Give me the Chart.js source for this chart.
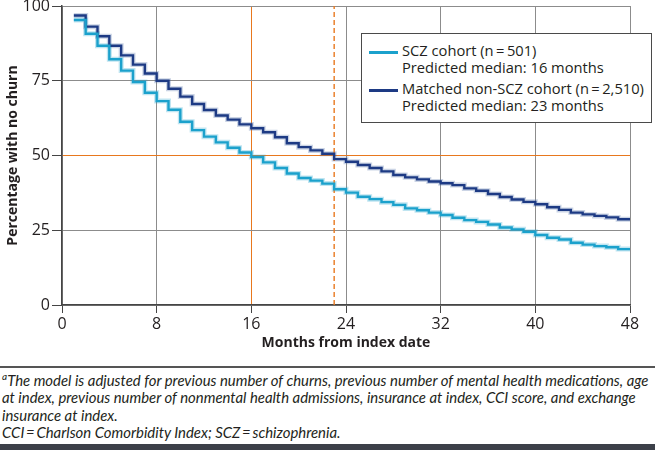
<!DOCTYPE html>
<html>
<head>
<meta charset="utf-8">
<script src="https://cdn.jsdelivr.net/npm/chart.js@4.4.1/dist/chart.umd.min.js"></script>
<style>
  html, body { margin: 0; padding: 0; background: #fff; }
  #wrap { position: relative; width: 655px; height: 450px; overflow: hidden; font-family: "Open Sans", sans-serif; color: #231f20; }
  #chartBox { position: absolute; left: 0; top: 0; width: 655px; height: 358px; }
  #legend { position: absolute; left: 361px; top: 33px; width: 291px; height: 90px; border: 1.5px solid #4a4a4a; background: #fff; box-sizing: border-box; }
  .entry { position: absolute; left: 0; }
  .swatch { position: absolute; left: 7px; width: 29px; height: 2.5px; }
  .lbl { position: absolute; left: 40px; white-space: nowrap; font-size: 14.7px; line-height: 17px; }
  #rule { position: absolute; left: 0; top: 366px; width: 655px; height: 1.5px; background: #555; }
  #notes { position: absolute; left: 2px; top: 368px; font-family: Lato, sans-serif; font-style: italic; font-size: 14.9px; line-height: 17.3px; white-space: nowrap; color: #231f20; }
  #bar { position: absolute; left: 0; top: 444px; width: 655px; height: 6px; background: #3c4049; }
</style>
</head>
<body>
<div id="wrap">
  <div id="chartBox"><canvas id="km"></canvas></div>
  <div id="legend"></div>
  <div id="rule"></div>
  <div id="notes">
    <sup style="font-size:10px">a</sup>The model is adjusted for previous number of churns, previous number of mental health medications, age<br>
    at index, previous number of nonmental health admissions, insurance at index, CCI score, and exchange<br>
    insurance at index.<br>
    CCI&#8201;=&#8201;Charlson Comorbidity Index; SCZ&#8201;=&#8201;schizophrenia.
  </div>
  <div id="bar"></div>
</div>
<script>
'use strict';

var months = [1, 2, 3, 4, 5, 6, 7, 8, 9, 10, 11, 12, 13, 14, 15, 16, 17, 18, 19, 20, 21, 22, 23, 24,
              25, 26, 27, 28, 29, 30, 31, 32, 33, 34, 35, 36, 37, 38, 39, 40, 41, 42, 43, 44, 45, 46, 47, 48];

// percentage with no churn, value held from each month to the next
var sczValues = [95.3, 90.7, 86.7, 82.2, 78.4, 74.6, 71.0, 68.2, 65.3, 61.3, 58.5, 56.3, 54.4, 52.6, 51.0, 49.5,
                 47.7, 45.8, 44.0, 42.5, 41.6, 40.6, 38.7, 37.6, 36.2, 35.4, 34.4, 33.5, 32.3, 31.7, 30.9, 30.1,
                 29.2, 28.4, 27.8, 26.9, 25.9, 25.3, 24.5, 23.4, 22.5, 21.9, 20.8, 20.2, 19.7, 19.3, 18.7, 18.7];

var nonSczValues = [96.8, 93.1, 89.9, 86.7, 83.5, 80.4, 77.4, 75.0, 72.3, 69.7, 67.2, 65.2, 63.4, 62.0, 60.4, 59.1,
                    57.8, 56.1, 54.1, 52.8, 51.7, 50.6, 48.8, 47.9, 46.8, 45.8, 44.7, 43.5, 42.7, 42.0, 41.3, 40.7,
                    40.1, 39.0, 38.2, 37.1, 36.1, 35.3, 34.5, 33.7, 32.7, 31.8, 30.9, 30.3, 29.8, 29.3, 28.7, 28.7];

var seriesLabels = ['SCZ cohort (n\u2009=\u2009501)', 'Matched non-SCZ cohort (n\u2009=\u20092,510)'];
var medianLabels = ['Predicted median: 16 months', 'Predicted median: 23 months'];
var medianMonths = [16, 23];
var medianLevel = 50;

var xTicks = [0, 8, 16, 24, 32, 40, 48];
var yTicks = [0, 25, 50, 75, 100];

var sczColor = '#1ba1cc';
var nonSczColor = '#1d3a84';
var orange = '#e8781e';
var gridGray = '#8c8c8c';
var axisDark = '#454545';

function toPoints(xs, ys) {
    return xs.map(function(x, i) { return { x: x, y: ys[i] }; });
}

function buildLegend() {
    var legend = document.getElementById('legend');
    var colors = [sczColor, nonSczColor];
    var tops = [8, 46];
    for (var i = 0; i < 2; i++) {
        var entry = document.createElement('div');
        entry.className = 'entry';
        entry.style.top = tops[i] + 'px';
        entry.innerHTML =
            '<div class="swatch" style="top:9px;background:' + colors[i] + '"></div>' +
            '<div class="lbl" style="top:0">' + seriesLabels[i] + '</div>' +
            '<div class="lbl" style="top:17px">' + medianLabels[i] + '</div>';
        legend.appendChild(entry);
    }
}

buildLegend();

var tickFont = { family: '"Open Sans", sans-serif', size: 16, lineHeight: 1.1 };
var titleFont = { family: '"Open Sans", sans-serif', size: 14, weight: 'bold' };

new Chart(document.getElementById('km').getContext('2d'), {
    type: 'line',
    data: {
        datasets: [
            {
                label: seriesLabels[0],
                data: toPoints(months, sczValues),
                stepped: 'before',
                borderColor: sczColor,
                borderWidth: 2.4,
                pointRadius: 0,
                fill: false
            },
            {
                label: seriesLabels[1],
                data: toPoints(months, nonSczValues),
                stepped: 'before',
                borderColor: nonSczColor,
                borderWidth: 2.4,
                pointRadius: 0,
                fill: false
            },
            {
                label: 'median',
                data: [{ x: medianMonths[1], y: yTicks[0] }, { x: medianMonths[1], y: yTicks[yTicks.length - 1] }],
                borderColor: orange,
                borderWidth: 1.4,
                borderDash: [5, 3],
                pointRadius: 0,
                fill: false
            },
            {
                label: 'halo1',
                data: toPoints(months, sczValues),
                stepped: 'before',
                borderColor: 'rgba(27, 161, 204, 0.28)',
                borderWidth: 5,
                pointRadius: 0,
                fill: false
            },
            {
                label: 'halo2',
                data: toPoints(months, nonSczValues),
                stepped: 'before',
                borderColor: 'rgba(70, 100, 160, 0.28)',
                borderWidth: 5,
                pointRadius: 0,
                fill: false
            }
        ]
    },
    options: {
        responsive: true,
        maintainAspectRatio: false,
        animation: false,
        layout: { padding: { top: 6, right: 25, left: 0, bottom: 0 } },
        plugins: {
            legend: { display: false },
            tooltip: { enabled: false }
        },
        scales: {
            x: {
                type: 'linear',
                min: xTicks[0],
                max: xTicks[xTicks.length - 1],
                afterBuildTicks: function(scale) {
                    scale.ticks = xTicks.map(function(v) { return { value: v }; });
                },
                afterFit: function(scale) { scale.height = 53; },
                ticks: { font: tickFont, color: '#231f20', padding: 3, maxRotation: 0 },
                grid: {
                    color: function(ctx) {
                        return ctx.tick && ctx.tick.value === medianMonths[0] ? orange : gridGray;
                    },
                    lineWidth: 1,
                    tickLength: 8,
                    tickColor: axisDark
                },
                border: { color: axisDark, width: 1.5 },
                title: {
                    display: true,
                    text: 'Months from index date',
                    font: titleFont,
                    color: '#231f20',
                    padding: { top: 0, bottom: 7 }
                }
            },
            y: {
                min: yTicks[0],
                max: yTicks[yTicks.length - 1],
                afterBuildTicks: function(scale) {
                    scale.ticks = yTicks.map(function(v) { return { value: v }; });
                },
                afterFit: function(scale) {
                    scale.width = 62;
                    scale.paddingTop = 0;
                    scale.paddingBottom = 0;
                },
                ticks: { font: tickFont, color: '#231f20', padding: 2 },
                grid: {
                    color: function(ctx) {
                        return ctx.tick && ctx.tick.value === medianLevel ? orange : gridGray;
                    },
                    lineWidth: 1,
                    tickLength: 10,
                    tickColor: axisDark
                },
                border: { color: axisDark, width: 1.5 },
                title: {
                    display: true,
                    text: 'Percentage with no churn',
                    font: titleFont,
                    color: '#231f20',
                    padding: { top: 5, bottom: 0 }
                }
            }
        }
    }
});
</script>
</body>
</html>
